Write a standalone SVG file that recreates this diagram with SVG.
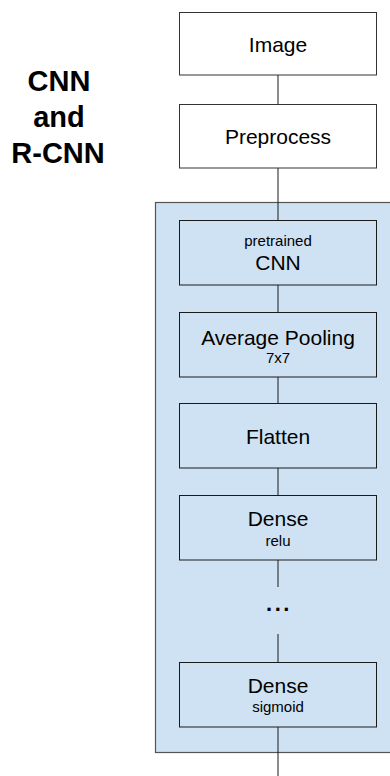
<svg xmlns="http://www.w3.org/2000/svg" width="390" height="776" viewBox="0 0 390 776">
  <style>
    text { font-family: "Liberation Sans", Arial, sans-serif; fill: #000; text-anchor: middle; }
    .title { font-size: 29px; font-weight: bold; }
    .main { font-size: 21px; }
    .sub { font-size: 15px; }
    .dots { font-size: 22px; font-weight: bold; letter-spacing: 2.5px; }
    .outer { fill: #ffffff; stroke: #333333; stroke-width: 1; }
    .layer { fill: #cfe2f3; stroke: #1a1a1a; stroke-width: 1; }
    .edge { stroke: #1a1a1a; stroke-width: 1; fill: none; }
  </style>

  <!-- title -->
  <g id="title">
    <text class="title" x="59" y="91">CNN</text>
    <text class="title" x="59" y="127">and</text>
    <text class="title" x="58" y="163">R-CNN</text>
  </g>

  <!-- model container -->
  <g id="model">
    <rect x="155.5" y="202.5" width="260" height="550" fill="#cfe2f3" stroke="#555555" stroke-width="1.2"/>
  </g>

  <!-- connectors -->
  <g id="connectors">
    <line class="edge" x1="278" y1="75" x2="278" y2="104"/>
    <line class="edge" x1="278" y1="168" x2="278" y2="220.5"/>
    <line class="edge" x1="278" y1="285" x2="278" y2="312.5"/>
    <line class="edge" x1="278" y1="377" x2="278" y2="403.5"/>
    <line class="edge" x1="278" y1="468" x2="278" y2="495.5"/>
    <line class="edge" x1="278" y1="560" x2="278" y2="587"/>
    <line class="edge" x1="278" y1="634" x2="278" y2="662.5"/>
    <line class="edge" x1="278" y1="727" x2="278" y2="776"/>
  </g>

  <g id="image">
    <rect class="outer" x="179.5" y="12.5" width="197" height="62.5"/>
    <text class="main" x="278" y="52">Image</text>
  </g>

  <g id="preprocess">
    <rect class="outer" x="179.5" y="104.5" width="197" height="63.5"/>
    <text class="main" x="278" y="144">Preprocess</text>
  </g>

  <g id="pretrained-cnn">
    <rect class="layer" x="179.5" y="220.5" width="197" height="64.5"/>
    <text class="sub" x="278" y="246">pretrained</text>
    <text class="main" x="278" y="270">CNN</text>
  </g>

  <g id="average-pooling">
    <rect class="layer" x="179.5" y="312.5" width="197" height="64.5"/>
    <text class="main" x="278" y="345">Average Pooling</text>
    <text class="sub" x="278" y="363">7x7</text>
  </g>

  <g id="flatten">
    <rect class="layer" x="179.5" y="403.5" width="197" height="64.5"/>
    <text class="main" x="278" y="444">Flatten</text>
  </g>

  <g id="dense-relu">
    <rect class="layer" x="179.5" y="495.5" width="197" height="64.5"/>
    <text class="main" x="278" y="526">Dense</text>
    <text class="sub" x="278" y="546">relu</text>
  </g>

  <g id="ellipsis">
    <text class="dots" x="279" y="611">...</text>
  </g>

  <g id="dense-sigmoid">
    <rect class="layer" x="179.5" y="662.5" width="197" height="64.5"/>
    <text class="main" x="278" y="693">Dense</text>
    <text class="sub" x="278" y="712">sigmoid</text>
  </g>
</svg>
